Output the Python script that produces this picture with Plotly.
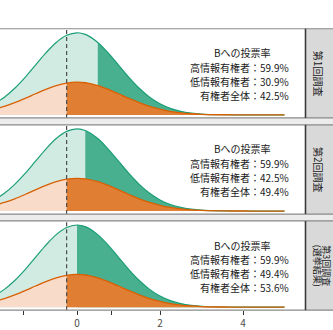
import plotly.graph_objects as go

# ---------------- data ----------------
x_grid = [-2.0, -1.75, -1.5, -1.25, -1.0, -0.75, -0.5, -0.25, 0.0, 0.2, 0.5, 0.75,
          1.0, 1.25, 1.5, 1.75, 2.0, 2.25, 2.5, 2.75, 3.0, 3.5, 4.0, 4.5, 5.0]
green_density = [0.0540, 0.0863, 0.1295, 0.1826, 0.2420, 0.3011, 0.3521, 0.3867, 0.3989,
                 0.3910, 0.3521, 0.3011, 0.2420, 0.1826, 0.1295, 0.0863, 0.0540, 0.0317,
                 0.0175, 0.0091, 0.0044, 0.0009, 0.0001, 0.0, 0.0]
orange_density = [0.0277, 0.0418, 0.0595, 0.0804, 0.1027, 0.1244, 0.1426, 0.1547, 0.1590,
                  0.1562, 0.1426, 0.1244, 0.1027, 0.0804, 0.0595, 0.0418, 0.0277, 0.0174,
                  0.0104, 0.0058, 0.0031, 0.0008, 0.0001, 0.0, 0.0]
green_threshold = [0.5, 0.2, 0.0]
orange_threshold = -0.25
vline_x = -0.25
strip_labels = [["第1回調査"], ["第2回調査"], ["第3回調査", "(選挙結果)"]]
title_text = "Bへの投票率"
high_info = [59.9, 59.9, 59.9]
low_info = [30.9, 42.5, 49.4]
all_voters = [42.5, 49.4, 53.6]
x_tick_vals = [-1.28, 0, 0.84, 2, 4]
x_tick_text = ["", "0", "", "2", "4"]

# ---------------- styling / geometry ----------------
W, H = 333, 330
GREEN_LINE = "#1b9e77"
GREEN_LIGHT = "#d1ebe3"
GREEN_DARK = "#48b08f"
ORANGE_LINE = "#d95f02"
ORANGE_LIGHT = "#f8dcc9"
ORANGE_DARK = "#e07f33"
FONT = "Noto Sans CJK JP"

px0, px_per_unit = 77.0, 41.5
panel_right = 305.0
panel_tops = [29.0, 126.0, 223.0]
panel_h = 90.0
xr = [(0 - px0) / px_per_unit, (panel_right - px0) / px_per_unit]
yr = [-0.0145, 0.4185]


def py(p):
    return 1 - p / H


def pxx(p):
    return p / W


fig = go.Figure()
shapes = []
annotations = []

for i in range(3):
    n = i + 1
    xa = "x" if n == 1 else f"x{n}"
    ya = "y" if n == 1 else f"y{n}"
    top = panel_tops[i]
    bot = top + panel_h

    gx = [x for x in x_grid if x >= green_threshold[i]]
    gy = [y for x, y in zip(x_grid, green_density) if x >= green_threshold[i]]
    ox = [x for x in x_grid if x >= orange_threshold]
    oy = [y for x, y in zip(x_grid, orange_density) if x >= orange_threshold]

    common = dict(xaxis=xa, yaxis=ya, showlegend=False, hoverinfo="skip", mode="lines")
    fig.add_trace(go.Scatter(x=x_grid, y=green_density, fill="tozeroy", fillcolor=GREEN_LIGHT,
                             line=dict(width=0, shape="spline"), **common))
    fig.add_trace(go.Scatter(x=gx, y=gy, fill="tozeroy", fillcolor=GREEN_DARK,
                             line=dict(width=0, shape="spline"), **common))
    fig.add_trace(go.Scatter(x=x_grid, y=green_density,
                             line=dict(width=1.2, color=GREEN_LINE, shape="spline"), **common))
    fig.add_trace(go.Scatter(x=x_grid, y=orange_density, fill="tozeroy", fillcolor=ORANGE_LIGHT,
                             line=dict(width=0, shape="spline"), **common))
    fig.add_trace(go.Scatter(x=ox, y=oy, fill="tozeroy", fillcolor=ORANGE_DARK,
                             line=dict(width=0, shape="spline"), **common))
    fig.add_trace(go.Scatter(x=x_grid, y=orange_density,
                             line=dict(width=1.3, color=ORANGE_LINE, shape="spline"), **common))

    xkey = "xaxis" if n == 1 else f"xaxis{n}"
    ykey = "yaxis" if n == 1 else f"yaxis{n}"
    xaxis = dict(domain=[0, pxx(panel_right)], range=xr, anchor=ya, showgrid=False,
                 zeroline=False, showline=False, fixedrange=True)
    if n == 3:
        xaxis.update(tickmode="array", tickvals=x_tick_vals, ticktext=x_tick_text,
                     ticks="outside", ticklen=4, tickwidth=1, tickcolor="#333333",
                     tickfont=dict(family=FONT, size=10, color="#4d4d4d"))
    else:
        xaxis.update(showticklabels=False, ticks="")
    fig.layout[xkey] = xaxis
    fig.layout[ykey] = dict(domain=[py(bot), py(top)], range=yr, anchor=xa, showgrid=False,
                            zeroline=False, showticklabels=False, ticks="", fixedrange=True)

    # dashed vertical line
    shapes.append(dict(type="line", xref=xa, yref=f"{ya} domain", x0=vline_x, x1=vline_x,
                       y0=0, y1=1, line=dict(color="#4d4d4d", width=1.2, dash="4px,3px"),
                       layer="above"))
    # strip
    shapes.append(dict(type="rect", xref="paper", yref="paper", x0=pxx(panel_right), x1=1.0,
                       y0=py(bot), y1=py(top), fillcolor="#d9d9d9", line=dict(width=0),
                       layer="below"))
    # panel borders
    for yy in (top, bot):
        shapes.append(dict(type="line", xref="paper", yref="paper", x0=0, x1=1.0,
                           y0=py(yy), y1=py(yy), line=dict(color="#8a8a8a", width=1.2),
                           layer="above"))
    shapes.append(dict(type="line", xref="paper", yref="paper", x0=pxx(panel_right + 0.5),
                       x1=pxx(panel_right + 0.5), y0=py(bot), y1=py(top),
                       line=dict(color="#3a3a3a", width=1.6), layer="above"))

    # gap between panels
    if n < 3:
        shapes.append(dict(type="rect", xref="paper", yref="paper", x0=0, x1=1.0,
                           y0=py(panel_tops[i + 1]), y1=py(bot), fillcolor="#ececec",
                           line=dict(width=0), layer="below"))

    # text block
    annotations.append(dict(xref="paper", yref="paper", x=pxx(242), y=py(top + 24.3),
                            text=title_text, showarrow=False, xanchor="center", yanchor="middle",
                            font=dict(family=FONT, size=10, color="#1a1a1a")))
    lines = [f"高情報有権者：{high_info[i]:.1f}%",
             f"低情報有権者：{low_info[i]:.1f}%",
             f"有権者全体：{all_voters[i]:.1f}%"]
    for k, t in enumerate(lines):
        annotations.append(dict(xref="paper", yref="paper", x=pxx(290.5),
                                y=py(top + 38.8 + 14.35 * k), text=t, showarrow=False,
                                xanchor="right", yanchor="middle",
                                font=dict(family=FONT, size=10, color="#1a1a1a")))

    # strip text
    labs = strip_labels[i]
    if len(labs) == 1:
        xs, fs = [318.5], 10
    else:
        xs, fs = [326.3, 317.8], 9
    for lab, xp in zip(labs, xs):
        annotations.append(dict(xref="paper", yref="paper", x=pxx(xp), y=py(top + panel_h / 2),
                                text=lab, showarrow=False, textangle=90,
                                xanchor="center", yanchor="middle",
                                font=dict(family=FONT, size=fs, color="#1a1a1a")))

fig.update_layout(width=W, height=H, margin=dict(l=0, r=0, t=0, b=0),
                  paper_bgcolor="white", plot_bgcolor="white",
                  shapes=shapes, annotations=annotations)

fig.write_html("out.html")
